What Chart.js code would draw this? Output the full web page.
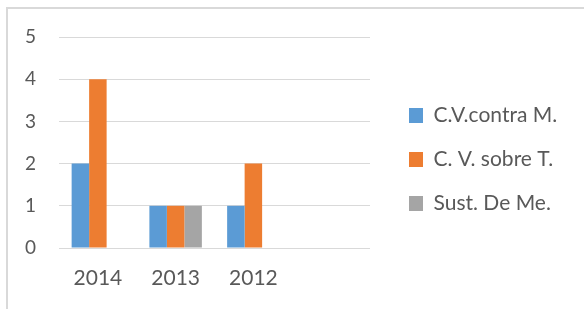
<!DOCTYPE html>
<html>
<head>
<meta charset="utf-8">
<script src="https://cdn.jsdelivr.net/npm/chart.js@4/dist/chart.umd.min.js"></script>
<style>
  html, body { margin: 0; padding: 0; background: #ffffff; }
  #wrap { position: relative; width: 584px; height: 309px; overflow: hidden; }
  #frame { position: absolute; left: 6px; top: 7px; width: 700px; height: 400px;
           border-top: 2px solid #d9d9d9; border-left: 2px solid #d9d9d9; }
  canvas { position: absolute; left: 0; top: 0; }
</style>
</head>
<body>
<div id="wrap">
  <div id="frame"></div>
  <canvas id="c" width="584" height="309"></canvas>
</div>
<script>
// Data
const categories = ['2014', '2013', '2012', ''];
const seriesNames = ['C.V.contra M.', 'C. V. sobre T.', 'Sust. De Me.'];
const cvContraM = [2, 1, 1, null];
const cvSobreT = [4, 1, 2, null];
const sustDeMe = [0, 1, 0, null];
const yTicks = [0, 1, 2, 3, 4, 5];

const colors = ['#5b9bd5', '#ed7d31', '#a5a5a5'];
const textColor = '#595959';
const FONT = 'Lato, "Open Sans", sans-serif';

const legendFix = {
  id: 'legendFix',
  beforeLayout(chart) {
    const lg = chart.legend;
    if (lg && !lg._fixed) {
      const orig = lg.fit;
      lg.fit = function () { orig.call(this); this.width = 214; };
      lg._fixed = true;
    }
  },
  afterLayout(chart) {
    const lg = chart.legend;
    const pad = lg.options.labels.padding;
    lg.left = 409 - pad;
    lg.right = lg.left + 214;
    lg.top = 82;
  }
};

new Chart(document.getElementById('c'), {
  type: 'bar',
  data: {
    labels: categories,
    datasets: [
      { label: seriesNames[0], data: cvContraM, backgroundColor: colors[0] },
      { label: seriesNames[1], data: cvSobreT, backgroundColor: colors[1] },
      { label: seriesNames[2], data: sustDeMe, backgroundColor: colors[2] }
    ]
  },
  options: {
    responsive: false,
    animation: false,
    devicePixelRatio: 1,
    layout: { padding: { left: 7, top: 37, right: 0, bottom: 0 } },
    datasets: { bar: { categoryPercentage: 0.675, barPercentage: 1.0, borderWidth: 0 } },
    scales: {
      x: {
        grid: { display: false, drawTicks: false },
        border: { display: false },
        ticks: { color: textColor, font: { family: FONT, size: 21 }, padding: 18, maxRotation: 0 },
        afterFit(s) { s.height = 61; }
      },
      y: {
        min: 0, max: 5,
        afterBuildTicks(s) { s.ticks = yTicks.map(v => ({ value: v })); },
        grid: { color: '#d9d9d9', lineWidth: 1, drawTicks: false },
        border: { display: false },
        ticks: { color: textColor, font: { family: FONT, size: 19 }, padding: 23 },
        afterFit(s) { s.width = 52; }
      }
    },
    plugins: {
      tooltip: { enabled: false },
      legend: {
        position: 'right',
        align: 'start',
        labels: {
          color: textColor,
          font: { family: FONT, size: 21 },
          boxWidth: 14,
          boxHeight: 15,
          padding: 23
        }
      }
    }
  },
  plugins: [legendFix]
});
</script>
</body>
</html>
